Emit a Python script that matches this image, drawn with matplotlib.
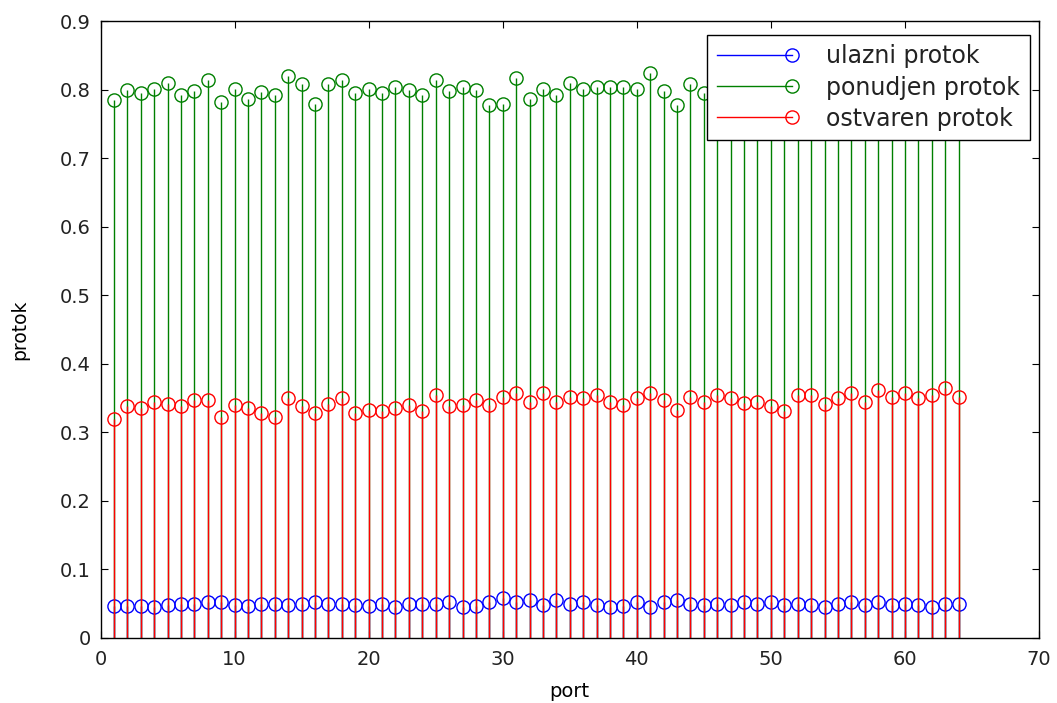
import numpy as np
import matplotlib
matplotlib.use("Agg")
import matplotlib.pyplot as plt
from matplotlib.lines import Line2D
from matplotlib.legend_handler import HandlerLine2D

plt.rcParams['font.family'] = ['DejaVu Sans']

port = list(range(1, 65))

ulazni = [0.047, 0.047, 0.047, 0.045, 0.048, 0.050, 0.050, 0.052, 0.053, 0.048,
          0.047, 0.050, 0.050, 0.048, 0.050, 0.052, 0.050, 0.050, 0.048, 0.047,
          0.050, 0.045, 0.050, 0.050, 0.050, 0.052, 0.045, 0.047, 0.052, 0.058,
          0.053, 0.055, 0.048, 0.055, 0.050, 0.052, 0.048, 0.045, 0.047, 0.052,
          0.045, 0.052, 0.055, 0.050, 0.048, 0.050, 0.048, 0.052, 0.050, 0.052,
          0.048, 0.050, 0.048, 0.045, 0.050, 0.052, 0.048, 0.052, 0.048, 0.050,
          0.048, 0.045, 0.050, 0.050]

ponudjen = [0.785, 0.800, 0.795, 0.802, 0.810, 0.792, 0.798, 0.815, 0.783, 0.802,
            0.787, 0.797, 0.792, 0.820, 0.808, 0.780, 0.808, 0.815, 0.795, 0.802,
            0.795, 0.805, 0.800, 0.792, 0.815, 0.798, 0.805, 0.800, 0.778, 0.780,
            0.818, 0.787, 0.802, 0.792, 0.810, 0.802, 0.805, 0.805, 0.805, 0.802,
            0.825, 0.798, 0.778, 0.808, 0.795, 0.800, 0.805, 0.795, 0.810, 0.798,
            0.790, 0.803, 0.812, 0.795, 0.800, 0.808, 0.793, 0.805, 0.800, 0.797,
            0.810, 0.792, 0.803, 0.800]

ostvaren = [0.320, 0.338, 0.335, 0.345, 0.342, 0.338, 0.348, 0.347, 0.323, 0.340,
            0.335, 0.328, 0.322, 0.350, 0.338, 0.328, 0.342, 0.350, 0.328, 0.333,
            0.332, 0.336, 0.340, 0.332, 0.355, 0.338, 0.340, 0.347, 0.340, 0.352,
            0.357, 0.345, 0.357, 0.345, 0.352, 0.350, 0.355, 0.345, 0.340, 0.350,
            0.357, 0.348, 0.333, 0.352, 0.345, 0.355, 0.350, 0.343, 0.345, 0.338,
            0.332, 0.355, 0.355, 0.342, 0.350, 0.357, 0.345, 0.362, 0.352, 0.358,
            0.350, 0.355, 0.365, 0.352]

xticks = [0, 10, 20, 30, 40, 50, 60, 70]
yticks = [0, 0.1, 0.2, 0.3, 0.4, 0.5, 0.6, 0.7, 0.8, 0.9]
ytick_labels = ['0', '0.1', '0.2', '0.3', '0.4', '0.5', '0.6', '0.7', '0.8', '0.9']

series = [
    (ulazni, (0, 0, 1), 'ulazni protok'),
    (ponudjen, (0, 0.5, 0), 'ponudjen protok'),
    (ostvaren, (1, 0, 0), 'ostvaren protok'),
]


class EndMarker(HandlerLine2D):
    # line with a single open circle at its right end
    def create_artists(self, legend, orig_handle, xdescent, ydescent,
                       width, height, fontsize, trans):
        y = (height - ydescent) / 2
        x0, x1 = -xdescent, -xdescent + width
        col = orig_handle.get_color()
        line = Line2D([x0, x1], [y, y], color=col,
                      linewidth=orig_handle.get_linewidth())
        mark = Line2D([x1], [y], linestyle='none', marker='o',
                      markerfacecolor='none', markeredgecolor=col,
                      markersize=orig_handle.get_markersize())
        line.set_transform(trans)
        mark.set_transform(trans)
        return [line, mark]


fig = plt.figure(figsize=(10.57, 7.03), dpi=100)
ax = fig.add_axes([0.0951, 0.0925, 0.8879, 0.877])

handles = []
for vals, col, name in series:
    ml, sl, bl = ax.stem(port, vals, basefmt=' ')
    plt.setp(sl, color=col, linewidth=1.0)
    plt.setp(ml, color=col, markerfacecolor='none', markeredgecolor=col,
             markersize=9.5, markeredgewidth=1.0)
    bl.set_visible(False)
    handles.append(Line2D([], [], color=col, linewidth=1.0, marker='o',
                          markerfacecolor='none', markersize=9.5, label=name))

ax.set_xlim(0, 70)
ax.set_ylim(0, 0.9)
ax.set_xticks(xticks)
ax.set_yticks(yticks)
ax.set_yticklabels(ytick_labels)
ax.tick_params(direction='in', top=True, right=True, length=5, labelsize=14,
               labelcolor='#222222')
ax.tick_params(axis='y', pad=7)
ax.tick_params(axis='x', pad=9)
for s in ax.spines.values():
    s.set_linewidth(1.0)

ax.set_xlabel('port', fontsize=14, labelpad=9)
ax.set_ylabel('protok', fontsize=13.5, labelpad=22)

leg = ax.legend(handles=handles, loc='upper right', bbox_to_anchor=(0.990, 0.978),
                borderaxespad=0, fancybox=False, framealpha=1, edgecolor='black',
                fontsize=17, handlelength=3.2, handletextpad=1.45,
                labelspacing=0.3, borderpad=0.4,
                handler_map={Line2D: EndMarker()})
leg.get_frame().set_linewidth(1.0)
for t in leg.get_texts():
    t.set_color('#222222')

fig.savefig('out.png', dpi=100)
